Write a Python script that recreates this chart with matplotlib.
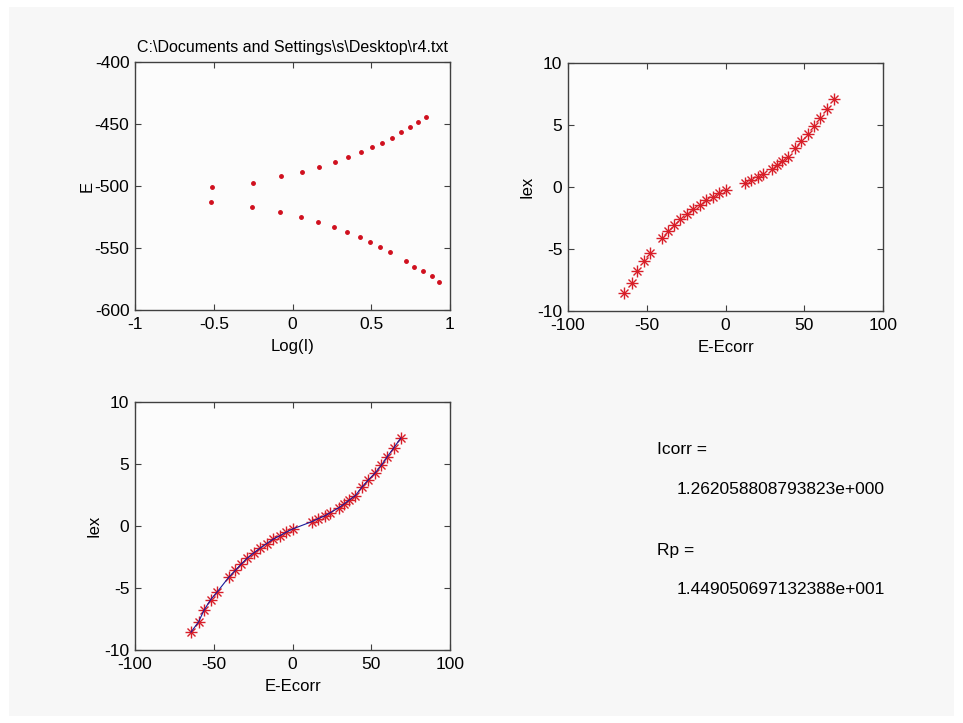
import numpy as np
import matplotlib
matplotlib.use("Agg")
import matplotlib.pyplot as plt
from matplotlib.patches import Rectangle

plt.rcParams['font.family'] = ['Liberation Sans', 'DejaVu Sans']
plt.rcParams['font.size'] = 12
plt.rcParams['axes.unicode_minus'] = False

# polarisation data
logI_up = [-0.513, -0.253, -0.075, 0.062, 0.168, 0.272, 0.352, 0.432, 0.507,
           0.570, 0.632, 0.689, 0.748, 0.799, 0.850]
E_up = [-500.7, -497.2, -492.3, -489.1, -484.6, -480.5, -476.8, -472.5, -468.5,
        -465.0, -460.9, -456.1, -452.3, -448.1, -444.6]
logI_down = [-0.520, -0.257, -0.079, 0.056, 0.164, 0.261, 0.346, 0.426, 0.492,
             0.558, 0.621, 0.721, 0.771, 0.831, 0.884, 0.930]
E_down = [-513.3, -517.3, -520.8, -525.4, -529.4, -533.4, -537.2, -540.9, -545.0,
          -549.5, -553.0, -560.5, -565.1, -568.6, -572.9, -577.5]

dE = [-64.4, -59.6, -56.2, -52.0, -47.7, -40.5, -36.3, -32.7, -28.9, -24.4,
      -20.5, -16.5, -12.5, -8.0, -4.0, 0.1,
      12.2, 16.2, 20.4, 24.0, 29.5, 32.7, 36.1, 39.9, 44.3, 48.1, 52.4, 56.4,
      60.2, 64.4, 68.8]
Iex = [-8.55, -7.72, -6.80, -5.94, -5.30, -4.14, -3.58, -3.09, -2.61, -2.15,
       -1.78, -1.42, -1.08, -0.78, -0.50, -0.24,
       0.35, 0.59, 0.81, 1.08, 1.48, 1.77, 2.10, 2.45, 3.17, 3.71, 4.27, 4.89,
       5.59, 6.32, 7.10]

logI_ticks = [-1, -0.5, 0, 0.5, 1]
E_ticks = [-600, -550, -500, -450, -400]
dE_ticks = [-100, -50, 0, 50, 100]
Iex_ticks = [-10, -5, 0, 5, 10]

title = r'C:\Documents and Settings\s\Desktop\r4.txt'
Icorr_txt = '1.262058808793823e+000'
Rp_txt = '1.449050697132388e+001'

W, H = 963, 723
fig = plt.figure(figsize=(W / 100, H / 100), dpi=100, facecolor='white')
fig.patches.append(Rectangle((9 / W, 7 / H), 1 - 18 / W, 1 - 14 / H,
                             transform=fig.transFigure, facecolor='#f7f7f7',
                             edgecolor='none', zorder=-10))


def box(px_left, px_top, px_right, px_bottom):
    return [px_left / W, 1 - px_bottom / H, (px_right - px_left) / W,
            (px_bottom - px_top) / H]


def style(ax):
    ax.set_facecolor('#fcfcfc')
    for s in ax.spines.values():
        s.set_color('#404040')
        s.set_linewidth(1.0)
    ax.tick_params(direction='in', length=4, width=0.8, color='#404040',
                   top=True, right=True, labelsize=12.5)
    ax.tick_params(axis='x', pad=5)
    ax.tick_params(axis='y', pad=4)


star = dict(linestyle='none', color='#d81e28', markeredgewidth=1.0)

# top left: E vs Log(I)
ax1 = fig.add_axes(box(135, 62, 450, 310))
style(ax1)
ax1.plot(logI_up, E_up, '.', color='#d0101e', ms=5)
ax1.plot(logI_down, E_down, '.', color='#d0101e', ms=5)
ax1.set_xlim(-1, 1)
ax1.set_ylim(-600, -400)
ax1.set_xticks(logI_ticks)
ax1.set_xticklabels(['-1', '-0.5', '0', '0.5', '1'])
ax1.set_yticks(E_ticks)
ax1.set_xlabel('Log(I)', labelpad=5)
ax1.set_ylabel('E', labelpad=0)
ax1.set_title(title, fontsize=11.5, pad=7)

# top right: Iex vs E-Ecorr
ax2 = fig.add_axes(box(568, 63, 883, 311))
style(ax2)
ax2.plot(dE, Iex, marker='+', ms=8, **star)
ax2.plot(dE, Iex, marker='x', ms=5.6, **star)
ax2.set_xlim(-100, 100)
ax2.set_ylim(-10, 10)
ax2.set_xticks(dE_ticks)
ax2.set_yticks(Iex_ticks)
ax2.set_xlabel('E-Ecorr', labelpad=5)
ax2.set_ylabel('Iex', labelpad=2)

# bottom left: same data with the fitted curve
ax3 = fig.add_axes(box(135, 402, 450, 650))
style(ax3)
ax3.plot(dE, Iex, marker='+', ms=8, **star)
ax3.plot(dE, Iex, marker='x', ms=5.6, **star)
ax3.plot(dE, Iex, color='#1a1a9a', lw=0.8)
ax3.set_xlim(-100, 100)
ax3.set_ylim(-10, 10)
ax3.set_xticks(dE_ticks)
ax3.set_yticks(Iex_ticks)
ax3.set_xlabel('E-Ecorr', labelpad=5)
ax3.set_ylabel('Iex', labelpad=2)

# results text
fig.text(657 / W, 1 - 450 / H, 'Icorr =', va='center', fontsize=12.5)
fig.text(677 / W, 1 - 490 / H, Icorr_txt, va='center', fontsize=12.5)
fig.text(657 / W, 1 - 550 / H, 'Rp =', va='center', fontsize=12.5)
fig.text(677 / W, 1 - 590 / H, Rp_txt, va='center', fontsize=12.5)

fig.savefig('out.png', dpi=100, facecolor=fig.get_facecolor())
